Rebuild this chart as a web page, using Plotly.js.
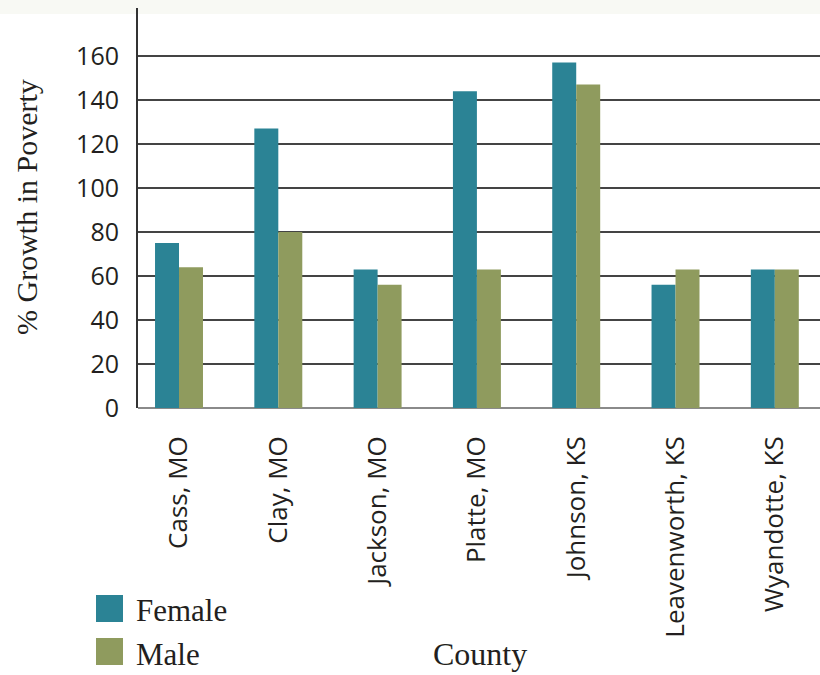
<!DOCTYPE html>
<html>
<head>
<meta charset="utf-8">
<script src="https://cdn.plot.ly/plotly-3.0.1.min.js"></script>
<style>
  html, body { margin: 0; padding: 0; background: #ffffff; }
  #chart { width: 820px; height: 675px; }
</style>
</head>
<body>
<div id="chart"></div>
<script>
// Counties along the x axis
const counties = ['Cass, MO', 'Clay, MO', 'Jackson, MO', 'Platte, MO', 'Johnson, KS', 'Leavenworth, KS', 'Wyandotte, KS'];
// % growth in poverty by sex
const femaleGrowth = [75, 127, 63, 144, 157, 56, 63];
const maleGrowth = [64, 80, 56, 63, 147, 63, 63];
// y axis ticks
const yTicks = [0, 20, 40, 60, 80, 100, 120, 140, 160];

const FEMALE_COLOR = '#2b8395';
const MALE_COLOR = '#8f9b5e';
const TEXT_COLOR = '#231f20';
const SANS = '"Open Sans", "Liberation Sans", Arial, sans-serif';
const SERIF = '"Liberation Serif", "Times New Roman", serif';

const traces = [
  { type: 'bar', name: 'Female', x: counties, y: femaleGrowth,
    marker: { color: FEMALE_COLOR, line: { width: 0 } }, hoverinfo: 'x+y+name' },
  { type: 'bar', name: 'Male', x: counties, y: maleGrowth,
    marker: { color: MALE_COLOR, line: { width: 0 } }, hoverinfo: 'x+y+name' }
];

const layout = {
  width: 820, height: 675,
  margin: { l: 138, r: 0, t: 8, b: 267, pad: 0 },
  paper_bgcolor: '#ffffff',
  plot_bgcolor: 'rgba(0,0,0,0)',
  showlegend: false,
  barmode: 'group',
  bargap: 0.517,
  bargroupgap: 0,
  xaxis: {
    type: 'category',
    range: [-0.413, 6.455],
    tickangle: -90,
    tickfont: { family: SANS, size: 26, color: TEXT_COLOR },
    ticks: '', ticklabelstandoff: 22,
    showgrid: false, zeroline: false, showline: false,
    fixedrange: true
  },
  yaxis: {
    range: [0, 181.8],
    tickvals: yTicks,
    ticktext: yTicks.map(String),
    tickfont: { family: SANS, size: 25, color: TEXT_COLOR },
    ticks: '', ticklabelstandoff: 12,
    showgrid: true, gridcolor: '#444444', gridwidth: 1.8,
    zeroline: true, zerolinecolor: '#8a8a8a', zerolinewidth: 2.5,
    showline: true, linecolor: '#333333', linewidth: 2,
    fixedrange: true
  },
  shapes: [
    // faint tint along the top edge
    { type: 'rect', xref: 'paper', yref: 'paper', x0: -0.25, x1: 1.05, y0: 0.985, y1: 1.06,
      fillcolor: '#f8f9f4', line: { width: 0 }, layer: 'below' },
    // legend swatches
    { type: 'rect', xref: 'paper', yref: 'paper',
      x0: (96 - 138) / 682, x1: (123 - 138) / 682,
      y0: (408 - 622) / 400, y1: (408 - 595) / 400,
      fillcolor: FEMALE_COLOR, line: { width: 0 } },
    { type: 'rect', xref: 'paper', yref: 'paper',
      x0: (96 - 138) / 682, x1: (123 - 138) / 682,
      y0: (408 - 665) / 400, y1: (408 - 638) / 400,
      fillcolor: MALE_COLOR, line: { width: 0 } }
  ],
  annotations: [
    { text: '% Growth in Poverty', xref: 'paper', yref: 'paper',
      x: (26 - 138) / 682, y: (408 - 207) / 400, xanchor: 'center', yanchor: 'middle',
      textangle: -90, showarrow: false,
      font: { family: SERIF, size: 30, color: TEXT_COLOR } },
    { text: 'Female', xref: 'paper', yref: 'paper',
      x: (134 - 138) / 682, y: (408 - 610) / 400, xanchor: 'left', yanchor: 'middle',
      showarrow: false, font: { family: SERIF, size: 31, color: TEXT_COLOR } },
    { text: 'Male', xref: 'paper', yref: 'paper',
      x: (134 - 138) / 682, y: (408 - 654) / 400, xanchor: 'left', yanchor: 'middle',
      showarrow: false, font: { family: SERIF, size: 31, color: TEXT_COLOR } },
    { text: 'County', xref: 'paper', yref: 'paper',
      x: (480 - 138) / 682, y: (408 - 654) / 400, xanchor: 'center', yanchor: 'middle',
      showarrow: false, font: { family: SERIF, size: 32, color: TEXT_COLOR } }
  ]
};

Plotly.newPlot('chart', traces, layout, { displayModeBar: false, staticPlot: true });
</script>
</body>
</html>
